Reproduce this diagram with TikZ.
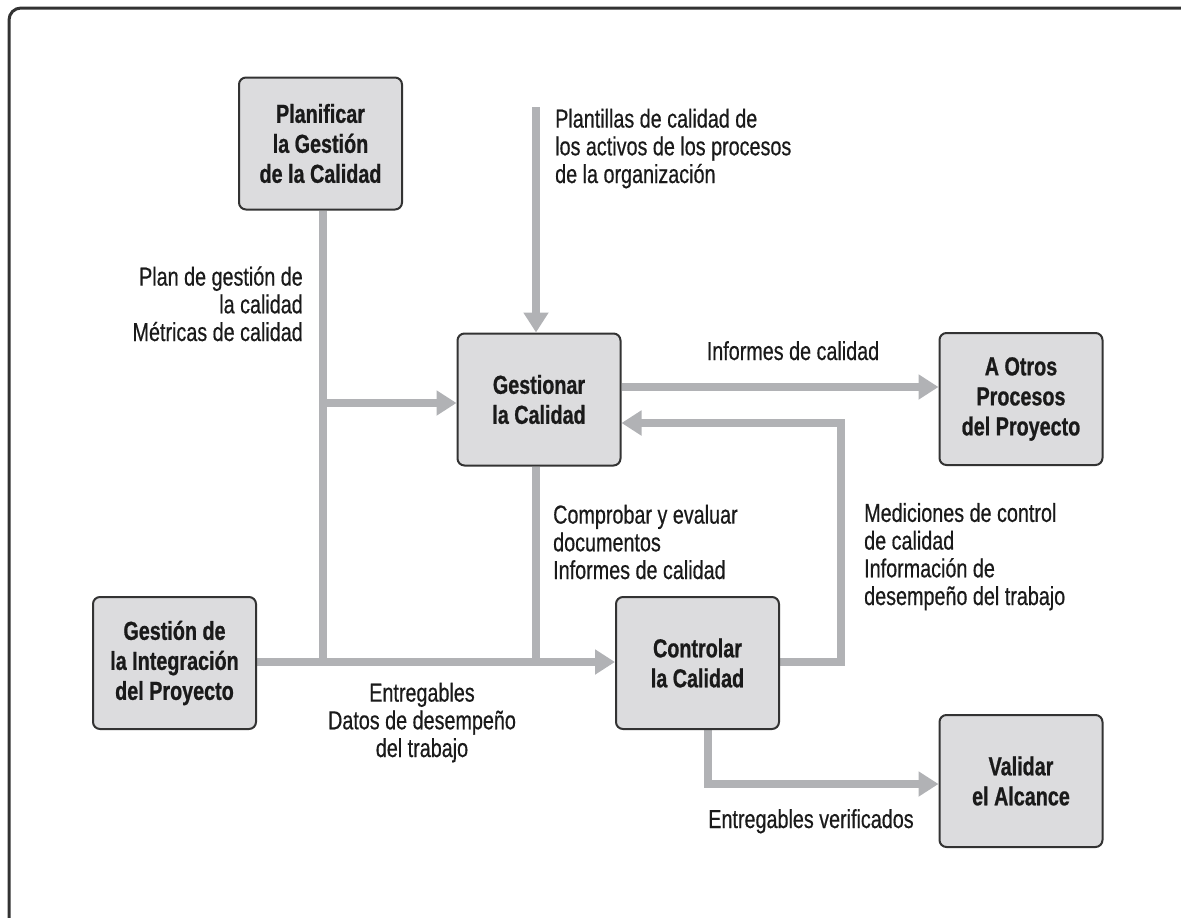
\documentclass[tikz,border=0pt]{standalone}
\usepackage{fontspec}
\setmainfont[FakeStretch=0.76,BoldFeatures={FakeBold=0.8}]{Liberation Sans}
\newfontfamily\labfont[FakeStretch=0.76,FakeBold=0.5]{Liberation Sans}
\usetikzlibrary{arrows.meta}
\definecolor{boxfill}{HTML}{DCDCDE}
\definecolor{linegray}{HTML}{B1B2B5}
\definecolor{edge}{HTML}{333333}
\definecolor{ink}{HTML}{1A1A1A}
\pgfdeclarelayer{background}
\pgfsetlayers{background,main}
\begin{document}
\begin{tikzpicture}[x=1pt,y=-1pt,
  proc/.style={draw=edge, line width=2pt, fill=boxfill, rounded corners=7pt,
    minimum width=163pt, minimum height=132pt, align=center, text=ink,
    font=\fontsize{26}{30}\selectfont\bfseries, inner sep=0pt},
  lab/.style={font=\labfont\fontsize{26}{27.7}\selectfont, inner sep=0pt, text=ink},
  flow/.style={draw=linegray, line width=8pt, line join=miter},
  arr/.style={flow, -{Triangle[width=24pt,length=20pt]}}]
\useasboundingbox (0,0) rectangle (1181,918);
\clip (0,0) rectangle (1181,918);

% process boxes
\node[proc] (plan)  at (320.5,143.5) {Planificar\\la Gestión\\de la Calidad};
\node[proc] (gest)  at (539,399.5)   {Gestionar\\la Calidad};
\node[proc] (otros) at (1021,399)    {A Otros\\Procesos\\del Proyecto};
\node[proc] (integ) at (174.5,663)   {Gestión de\\la Integración\\del Proyecto};
\node[proc] (ctrl)  at (697.5,663)   {Controlar\\la Calidad};
\node[proc] (valid) at (1021,781)    {Validar\\el Alcance};

% labels (anchor = baseline of the last line)
\node[lab, anchor=base west, align=left] (lplant) at (555,183)
  {Plantillas de calidad de\\los activos de los procesos\\de la organización};
\node[lab, anchor=base east, align=right] (lplan) at (303,341)
  {Plan de gestión de\\la calidad\\Métricas de calidad};
\node[lab, anchor=base] (linf) at (793,360) {Informes de calidad};
\node[lab, anchor=base west, align=left] (lcomp) at (553,579)
  {Comprobar y evaluar\\documentos\\Informes de calidad};
\node[lab, anchor=base west, align=left] (lmed) at (864,605)
  {Mediciones de control\\de calidad\\Información de\\desempeño del trabajo};
\node[lab, anchor=base, align=center] (lent) at (422,757)
  {Entregables\\Datos de desempeño\\del trabajo};
\node[lab, anchor=base] (lver) at (811,828) {Entregables verificados};

% helper coordinates
\coordinate (j1) at (323,662);
\coordinate (b1) at (323,403);
\coordinate (j2) at (536,662);
\coordinate (t1) at (536,107);
\coordinate (r1) at (700,387);
\coordinate (c1) at (841,662);
\coordinate (c2) at (841,423);
\coordinate (v1) at (708,784);

\begin{pgfonlayer}{background}
  \draw[edge, line width=3pt, rounded corners=12pt] (9,8) rectangle (1215,950);
  \draw[flow] (plan.south -| j1) -- (j1);
  \draw[arr] (b1) -- (b1 -| gest.west);
  \draw[arr] (t1) -- (t1 |- gest.north);
  \draw[arr] (gest.east |- r1) -- (otros.west |- r1);
  \draw[arr] (ctrl.east |- c1) -- (c1) -- (c2) -- (gest.east |- c2);
  \draw[arr] (integ.east |- j1) -- (ctrl.west |- j1);
  \draw[flow] (gest.south -| j2) -- (j2);
  \draw[arr] (ctrl.south -| v1) -- (v1) -- (valid.west |- v1);
\end{pgfonlayer}
\end{tikzpicture}
\end{document}
